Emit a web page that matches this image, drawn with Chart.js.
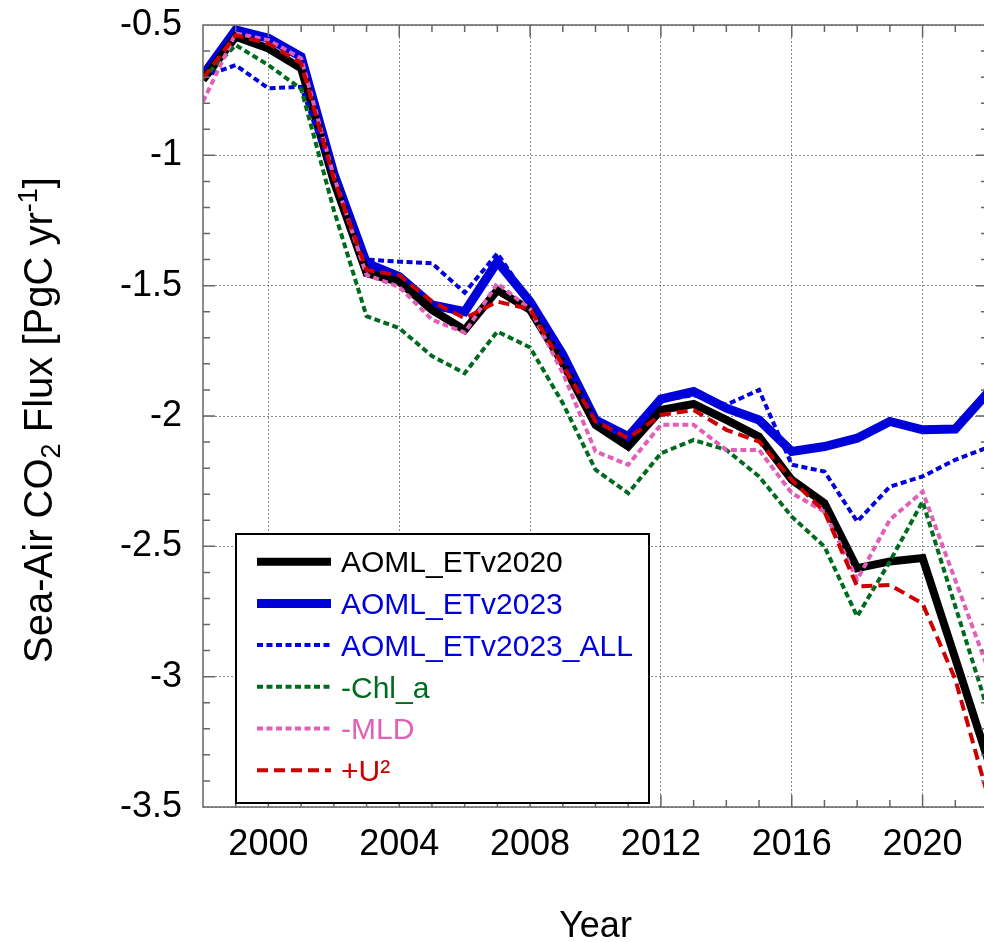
<!DOCTYPE html>
<html>
<head>
<meta charset="utf-8">
<script src="https://cdn.jsdelivr.net/npm/chart.js@4.4.1/dist/chart.umd.min.js"></script>
<style>
  html, body { margin: 0; padding: 0; background: #fff; overflow: hidden; }
  canvas { display: block; }
</style>
</head>
<body>
<canvas id="flux" width="1000" height="942"></canvas>
<script>
const years = [1998, 1999, 2000, 2001, 2002, 2003, 2004, 2005, 2006, 2007, 2008, 2009, 2010,
               2011, 2012, 2013, 2014, 2015, 2016, 2017, 2018, 2019, 2020, 2021, 2022];

const etv2020 = [-0.71, -0.545, -0.59, -0.666, -1.10, -1.452, -1.485, -1.593, -1.67, -1.517, -1.593, -1.797, -2.034,
                 -2.117, -1.977, -1.954, -2.015, -2.079, -2.245, -2.334, -2.584, -2.558, -2.545, -2.93, -3.32];
const etv2023 = [-0.692, -0.519, -0.551, -0.622, -1.07, -1.414, -1.465, -1.574, -1.60, -1.408, -1.561, -1.765, -2.015,
                 -2.079, -1.935, -1.906, -1.97, -2.015, -2.136, -2.117, -2.085, -2.021, -2.053, -2.05, -1.91];
const etv2023All = [-0.699, -0.654, -0.743, -0.737, -1.09, -1.40, -1.408, -1.414, -1.527, -1.376, -1.56, -1.77, -2.02,
                    -2.09, -1.94, -1.92, -1.957, -1.90, -2.187, -2.213, -2.405, -2.271, -2.232, -2.168, -2.12];
const chlA = [-0.705, -0.577, -0.654, -0.745, -1.21, -1.617, -1.663, -1.77, -1.836, -1.676, -1.737, -1.951, -2.206,
              -2.296, -2.143, -2.092, -2.13, -2.232, -2.386, -2.501, -2.769, -2.558, -2.328, -2.73, -3.13];
const mld = [-0.794, -0.532, -0.558, -0.628, -1.08, -1.459, -1.505, -1.63, -1.68, -1.491, -1.59, -1.835, -2.136,
             -2.187, -2.034, -2.034, -2.13, -2.13, -2.296, -2.367, -2.628, -2.398, -2.29, -2.63, -2.97];
const u2 = [-0.705, -0.539, -0.571, -0.647, -1.09, -1.44, -1.46, -1.561, -1.625, -1.561, -1.59, -1.805, -2.02,
            -2.085, -1.996, -1.977, -2.053, -2.098, -2.245, -2.367, -2.654, -2.648, -2.72, -3.01, -3.46];

const seriesNames = ['AOML_ETv2020', 'AOML_ETv2023', 'AOML_ETv2023_ALL', '-Chl_a', '-MLD', '+U\u00B2'];
const xTicks = [2000, 2004, 2008, 2012, 2016, 2020];
const yTicks = [-3.5, -3, -2.5, -2, -1.5, -1, -0.5];

const FONT = "'Liberation Sans', Arial, Helvetica, sans-serif";

// colour, width, dash, draw order (higher order is drawn first)
const looks = [
  { color: '#000000', width: 8, dash: [], order: 5 },
  { color: '#0000d8', width: 9, dash: [], order: 6 },
  { color: '#0000e0', width: 4, dash: [6, 3.5], order: 4 },
  { color: '#006b1f', width: 4, dash: [6, 3.5], order: 3 },
  { color: '#e060b8', width: 4, dash: [6, 3.5], order: 2 },
  { color: '#cc0000', width: 4, dash: [11, 6], order: 1 },
];

const values = [etv2020, etv2023, etv2023All, chlA, mld, u2];

const datasets = values.map((vals, i) => ({
  label: seriesNames[i],
  data: years.map((yr, j) => ({ x: yr, y: vals[j] })),
  borderColor: looks[i].color,
  borderWidth: looks[i].width,
  borderDash: looks[i].dash,
  borderJoinStyle: 'miter',
  borderCapStyle: 'butt',
  order: looks[i].order,
  pointRadius: 0,
  tension: 0,
  fill: false,
}));

// box, inward ticks on all four sides
const framePlugin = {
  id: 'frame',
  afterDatasetsDraw(chart) {
    const { ctx, chartArea: a, scales: { x, y } } = chart;
    ctx.save();
    ctx.strokeStyle = '#666';
    ctx.lineWidth = 1.5;
    ctx.strokeRect(a.left, a.top, a.right - a.left, a.bottom - a.top);
    ctx.beginPath();
    for (let yr = 1999; yr <= 2021; yr++) {
      const px = x.getPixelForValue(yr);
      const len = xTicks.includes(yr) ? 12 : 7;
      ctx.moveTo(px, a.bottom); ctx.lineTo(px, a.bottom - len);
      ctx.moveTo(px, a.top); ctx.lineTo(px, a.top + len);
    }
    for (let k = -34; k <= -6; k++) {
      const py = y.getPixelForValue(k / 10);
      const len = k % 5 === 0 ? 12 : 7;
      ctx.moveTo(a.left, py); ctx.lineTo(a.left + len, py);
      ctx.moveTo(a.right, py); ctx.lineTo(a.right - len, py);
    }
    ctx.stroke();
    ctx.restore();
  }
};

const labelsPlugin = {
  id: 'labels',
  afterDraw(chart) {
    const { ctx, chartArea: a } = chart;
    ctx.save();

    // x title
    ctx.fillStyle = '#000';
    ctx.font = '36px ' + FONT;
    ctx.textAlign = 'center';
    ctx.textBaseline = 'alphabetic';
    ctx.fillText('Year', (a.left + a.right) / 2, 937);

    // y title with subscript and superscript
    const parts = [
      { t: 'Sea-Air CO', s: 40, dy: 0 },
      { t: '2', s: 27, dy: 8 },
      { t: ' Flux [PgC yr', s: 40, dy: 0 },
      { t: '-1', s: 27, dy: -15 },
      { t: ']', s: 40, dy: 0 },
    ];
    let total = 0;
    parts.forEach(p => { ctx.font = p.s + 'px ' + FONT; p.w = ctx.measureText(p.t).width; total += p.w; });
    ctx.translate(52, 420);
    ctx.rotate(-Math.PI / 2);
    ctx.textAlign = 'left';
    let cx = -total / 2;
    parts.forEach(p => {
      ctx.font = p.s + 'px ' + FONT;
      ctx.fillText(p.t, cx, p.dy);
      cx += p.w;
    });
    ctx.restore();

    // legend box
    ctx.save();
    const bx = 236, by = 534, bw = 413, bh = 269;
    ctx.fillStyle = '#fff';
    ctx.fillRect(bx, by, bw, bh);
    ctx.strokeStyle = '#000';
    ctx.lineWidth = 2;
    ctx.strokeRect(bx, by, bw, bh);
    ctx.font = '30px ' + FONT;
    ctx.textAlign = 'left';
    ctx.textBaseline = 'alphabetic';
    seriesNames.forEach((name, i) => {
      const ry = 561.7 + i * 41.7;
      ctx.beginPath();
      ctx.strokeStyle = looks[i].color;
      ctx.lineWidth = looks[i].width;
      ctx.setLineDash(looks[i].dash);
      ctx.moveTo(257, ry);
      ctx.lineTo(331, ry);
      ctx.stroke();
      ctx.setLineDash([]);
      ctx.fillStyle = looks[i].color;
      ctx.fillText(name, 341, ry + 10.7);
    });
    ctx.restore();
  }
};

new Chart(document.getElementById('flux'), {
  type: 'line',
  data: { datasets },
  options: {
    responsive: false,
    animation: false,
    layout: { padding: { top: 25, right: 12, left: 0, bottom: 0 } },
    plugins: {
      legend: { display: false },
      title: { display: false },
      tooltip: { enabled: false },
    },
    scales: {
      x: {
        type: 'linear',
        min: 1998,
        max: 2022,
        afterBuildTicks: s => { s.ticks = xTicks.map(v => ({ value: v })); },
        afterFit: s => { s.height = 135; s.paddingLeft = 0; s.paddingRight = 0; },
        ticks: {
          autoSkip: false,
          maxRotation: 0,
          padding: 16,
          color: '#000',
          font: { family: FONT, size: 36 },
          callback: v => String(v),
        },
        grid: { color: '#8a8a8a', lineWidth: 1, drawTicks: false },
        border: { display: false, dash: [2, 2] },
      },
      y: {
        type: 'linear',
        min: -3.5,
        max: -0.5,
        afterBuildTicks: s => { s.ticks = yTicks.map(v => ({ value: v })); },
        afterFit: s => { s.width = 203; s.paddingTop = 0; s.paddingBottom = 0; },
        ticks: {
          padding: 21,
          color: '#000',
          font: { family: FONT, size: 36 },
          callback: v => String(v),
        },
        grid: { color: '#8a8a8a', lineWidth: 1, drawTicks: false },
        border: { display: false, dash: [2, 2] },
      },
    },
  },
  plugins: [framePlugin, labelsPlugin],
});
</script>
</body>
</html>
